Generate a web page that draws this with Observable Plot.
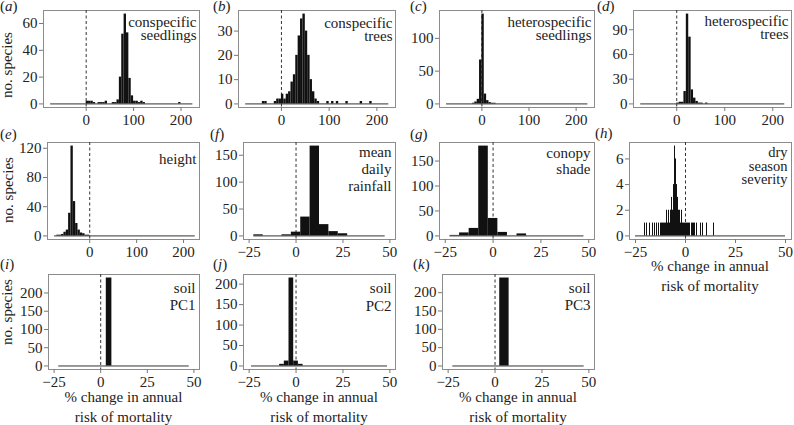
<!DOCTYPE html>
<html><head><meta charset="utf-8">
<script src="https://cdn.jsdelivr.net/npm/d3@7"></script>
<script src="https://cdn.jsdelivr.net/npm/@observablehq/plot@0.6"></script>
<style>
html,body{margin:0;padding:0;background:#fff;}
#fig{position:relative;width:794px;height:425px;overflow:hidden;font-family:"Liberation Serif","Times New Roman",serif;color:#222;}
#fig svg{position:absolute;overflow:visible;}
.t{position:absolute;font-size:15px;line-height:12px;white-space:nowrap;}
.yt{line-height:15px;transform:translate(-50%,-50%) rotate(-90deg);}
.xt{transform:translateX(-50%);text-align:center;}
</style></head><body><div id="fig"></div>
<script>
// ---------------- data ----------------
const panelKeys  = ["a","b","c","d","e","f","g","h","i","j","k"];
const panelNotes = ["conspecific\nseedlings","conspecific\ntrees","heterospecific\nseedlings","heterospecific\ntrees",
                    "height","mean\ndaily\nrainfall","conopy\nshade","dry\nseason\nseverity","soil\nPC1","soil\nPC2","soil\nPC3"];
const yTitle = "no. species";
const xTitleLines = ["% change in annual", "risk of mortality"];

// histogram bins: left edges and species counts
const aStarts = [0,5,10,15,25,30,35,40,55,60,65,70,75,80,85,90,95,100,105,110,115,120,195];
const aCounts = [2,2,2,1,1,1,1,2,1,1,3,20,52,67,53,19,6,2,2,1,2,1,1];
const bStarts = [-40,-35,-15,-10,-5,0,5,10,15,20,25,30,35,40,45,50,55,60,65,70,75,95,105,115,135,165,185];
const bCounts = [1,1,1,2,2,4,2,4,5,9,12,20,28,35,37,30,20,10,5,2,1,1,1,1,1,1,1];
const cStarts = [-20,-15,-10,-5,0,5,10,15,20,25];
const cCounts = [1,3,7,67,137,15,5,2,1,1];
const dStarts = [0,5,10,15,20,25,30,35,40,45,50,60];
const dCounts = [1,2,2,15,109,81,17,7,3,1,1,1];
const eStarts = [-70,-65,-60,-55,-50,-45,-40,-35,-30,-25,-20,-15,-10,-5];
const eCounts = [1,1,2,5,8,31,123,47,17,8,4,3,1,1];
const fStarts = [-22.5,-7.5,-2.5,2.5,7.5,12.5,17.5,22.5];
const fCounts = [2,2,7,35,167,21,8,4];
const gStarts = [-22.5,-17.5,-12.5,-7.5,-2.5,2.5,12.5];
const gCounts = [1,6,15,180,35,7,4];
const hStarts = [-20.5,-19.5,-18,-16.5,-15.5,-14.5,-13.5,-12.5,-12,-11.5,-11,-10.5,-10,-9.5,-9,-8.5,-8,-7.5,-7,-6.5,-6,-5.5,-5,-4.5,-4,-3.5,-3,-2.5,-2,-1.5,-1,-0.5,0,0.5,1,1.5,2,3,3.5,4,4.5,5.5,7.5,8.5,10.5,14];
const hCounts = [1,1,1,1,1,1,1,1,1,1,1,1,1,2,1,2,1,2,3,2,4,7,6,4,3,2,2,1,2,1,1,1,1,1,1,1,1,1,1,1,1,1,1,1,1,1];
const iStarts = [3];
const iCounts = [241];
const jStarts = [-8.75,-6.25,-3.75,-1.25,1.25];
const jCounts = [4,12,215,12,4];
const kStarts = [2.5];
const kCounts = [240];

const binStarts = {a:aStarts,b:bStarts,c:cStarts,d:dStarts,e:eStarts,f:fStarts,g:gStarts,h:hStarts,i:iStarts,j:jStarts,k:kStarts};
const binCounts = {a:aCounts,b:bCounts,c:cCounts,d:dCounts,e:eCounts,f:fCounts,g:gCounts,h:hCounts,i:iCounts,j:jCounts,k:kCounts};
const binWidth  = {a:5,b:5,c:5,d:5,e:5,f:5,g:5,h:0.5,i:3,j:2.5,k:5};
// range spanned by the histogram breaks (drawn as the zero line)
const breakRange = {a:[-75,225],b:[-75,225],c:[-75,225],d:[-75,225],e:[-75,225],
                    f:[-22.5,47.5],g:[-22.5,47.5],h:[-25,50],i:[-22.5,47.5],j:[-23.75,48.75],k:[-22.5,47.5]};

const xTicksWide   = [0,100,200];
const xTicksNarrow = [-25,0,25,50];
const yTickValues = {a:[0,20,40,60],b:[0,10,20,30],c:[0,50,100],d:[0,30,60,90],e:[0,40,80,120],
                     f:[0,50,100,150],g:[0,50,100,150],h:[0,2,4,6],i:[0,50,100,150,200],j:[0,50,100,150,200],k:[0,50,100,150,200]};

// ---------------- layout (pixels) ----------------
const frames = {
  a:[43,10,199,107], b:[238,10,395,107], c:[439,10,594,107], d:[633,10,791,107],
  e:[47,142,199,239], f:[243,142,395,239], g:[439,142,594,239], h:[629,142,791,239],
  i:[48,274,199,369], j:[243,274,395,369], k:[442,274,594,369]
};
const xDomains = {a:[-90,239],b:[-90,239],c:[-90,239],d:[-90,239],e:[-90,234],
                  f:[-28,53],g:[-28,53],h:[-28,53],i:[-28,53],j:[-28,53],k:[-28,53]};
// [first baseline below frame top, line spacing, font size, right inset]
const noteLayout = {a:[16,14,15,3],b:[17,14,15,3],c:[16,14,15,3],d:[15,14,15,3],e:[21,14,15,3],
                    f:[14.5,17,15,4],g:[15.5,16,15,4],h:[14.5,13.7,14.5,4],i:[18,18,15,4],j:[18.5,18,15,4],k:[18,18,15,4]};
const tagPos = {a:[0,11],b:[213,11],c:[410,11],d:[597,11],e:[0,139],f:[210,139],g:[410,139],h:[595,138],i:[0,269],j:[213,269],k:[413,269]};
const yTitlePos = {a:[6.9,65],e:[8.2,190],i:[6.6,312]};
const xTitlePos = {h:[710,271],i:[123.5,402],j:[319,402],k:[518,402]};
const xTitleGap = 20;

// ---------------- drawing ----------------
const fig = document.getElementById("fig");
const ML = 42, MT = 6, MR = 6, MB = 28;
const FS = 15;
const BASE = 11.07; // baseline offset inside a 12px-line div at 15px

function addDiv(cls, x, y, html) {
  const el = document.createElement("div");
  el.className = cls;
  el.style.left = x + "px";
  el.style.top = y + "px";
  el.innerHTML = html;
  fig.appendChild(el);
  return el;
}

panelKeys.forEach((k, idx) => {
  const [fx0, fy0, fx1, fy1] = frames[k];
  const w = binWidth[k];
  const bins = binStarts[k].map((s, i) => ({x1: s, x2: s + w, n: binCounts[k][i]}));
  const M = d3.max(binCounts[k]);
  const [b1, ls, nfs, nin] = noteLayout[k];
  const xt = (k <= "e") ? xTicksWide : xTicksNarrow;
  const svg = Plot.plot({
    width: fx1 - fx0 + ML + MR,
    height: fy1 - fy0 + MT + MB,
    marginLeft: ML, marginTop: MT, marginRight: MR, marginBottom: MB,
    x: {domain: xDomains[k], label: null},
    y: {domain: [-0.04 * M, 1.04 * M], label: null},
    style: {fontFamily: '"Liberation Serif", serif', fontSize: FS + "px", background: "none", overflow: "visible", color: "#222"},
    marks: [
      Plot.frame({stroke: "#8c8c8c"}),
      Plot.ruleX([0], {stroke: "#333", strokeDasharray: "3,2.5"}),
      Plot.ruleY([0], {x1: breakRange[k][0], x2: breakRange[k][1], stroke: "#333"}),
      Plot.rect(bins, {x1: "x1", x2: "x2", y1: 0, y2: "n", fill: "#111", inset: 0}),
      Plot.axisX(xt, {tickSize: 4, tickPadding: 3, stroke: "#777", fill: "#222", label: null}),
      Plot.axisY(yTickValues[k], {tickSize: 4, tickPadding: 2, stroke: "#777", fill: "#222", label: null}),
      Plot.text([panelNotes[idx]], {frameAnchor: "top-right", textAnchor: "end", lineAnchor: "top",
        lineHeight: ls / nfs, fontSize: nfs, dx: -nin, dy: b1 - 0.71 * ls, fill: "#222"})
    ]
  });
  svg.style.left = (fx0 - ML) + "px";
  svg.style.top = (fy0 - MT) + "px";
  fig.appendChild(svg);

  // panel tag "(a)"
  addDiv("t", tagPos[k][0], Math.max(0, tagPos[k][1] - BASE), "(<i>" + k + "</i>)");

  if (yTitlePos[k]) {
    const el = addDiv("t yt", yTitlePos[k][0], yTitlePos[k][1], "");
    el.textContent = yTitle;
  }
  if (xTitlePos[k]) {
    xTitleLines.forEach((line, li) => {
      const el = addDiv("t xt", xTitlePos[k][0], xTitlePos[k][1] + li * xTitleGap - BASE, "");
      el.textContent = line;
    });
  }
});
</script></body></html>
